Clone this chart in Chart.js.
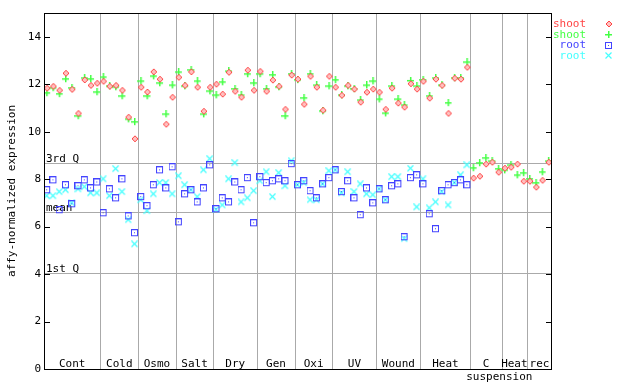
<!DOCTYPE html>
<html>
<head>
<meta charset="utf-8">
<script src="https://cdn.jsdelivr.net/npm/chart.js@4.4.1/dist/chart.umd.min.js"></script>
<style>
  body { margin: 0; background: #fff; }
  #wrap { width: 640px; height: 384px; }
</style>
</head>
<body>
<div id="wrap"><canvas id="expr" width="640" height="384"></canvas></div>
<script>
// groups of samples along the x axis
const groups = ['Cont', 'Cold', 'Osmo', 'Salt', 'Dry', 'Gen', 'Oxi', 'UV', 'Wound', 'Heat', 'C\nsuspension', 'Heat', 'rec'];
const groupSizes = [9, 6, 6, 6, 7, 6, 6, 7, 7, 8, 5, 4, 4];

// shoot replicates (all 81 samples)
const shootA = [
  11.83, 11.91, 11.74, 12.46, 11.78, 10.77, 12.18, 11.95, 12.04,
  12.12, 11.91, 11.95, 11.74, 10.61, 9.70,
  11.87, 11.67, 12.52, 12.21, 10.31, 11.45,
  12.29, 11.95, 12.52, 11.87, 10.86, 11.87,
  12.00, 11.58, 12.50, 11.70, 11.45, 12.59, 11.74,
  12.54, 11.70, 12.17, 11.91, 10.94, 12.38,
  12.21, 11.15, 12.33, 11.87, 10.90, 12.33,
  11.87, 11.53, 11.95, 11.79, 11.24, 11.66, 11.79,
  11.66, 10.94, 11.83, 11.20, 11.03, 12.02, 11.79,
  12.12, 11.41, 12.21, 11.95, 10.77, 12.25, 12.21, 12.71,
  8.04, 8.12, 8.63, 8.71, 8.29,
  8.46, 8.50, 8.63, 7.91,
  7.91, 7.66, 7.95, 8.71
];
const shootB = [
  11.62, 11.83, 11.58, 12.21, 11.83, 10.65, 12.25, 12.21, 11.66,
  12.29, 11.91, 11.87, 11.49, 10.52, 10.40,
  12.12, 11.49, 12.33, 12.04, 10.73, 11.95,
  12.50, 11.91, 12.59, 12.12, 10.73, 11.70,
  11.53, 12.08, 12.54, 11.79, 11.53, 12.42, 12.04,
  12.42, 11.79, 12.38, 11.87, 10.65, 12.42,
  12.17, 11.41, 12.42, 11.95, 10.86, 11.91,
  12.17, 11.53, 11.91, 11.79, 11.32, 11.95, 12.12,
  11.36, 10.77, 11.91, 11.36, 11.11, 12.14, 11.91,
  12.17, 11.49, 12.25, 11.95, 11.20, 12.25, 12.25, 12.92,
  8.46, 8.67, 8.88, 8.75, 8.42,
  8.37, 8.58, 8.16, 8.25,
  8.00, 7.83, 8.29, 8.75
];
// root replicates (first 68 samples, Cont .. Heat)
const rootA = [
  7.53, 7.95, 6.69, 7.74, 6.94, 7.70, 7.95, 7.61, 7.86,
  6.56, 7.57, 7.19, 7.99, 6.43, 5.72,
  7.24, 6.86, 7.74, 8.37, 7.61, 8.50,
  6.18, 7.36, 7.53, 7.02, 7.61, 8.58,
  6.73, 7.19, 7.02, 7.86, 7.53, 8.04, 6.14,
  8.08, 7.83, 7.91, 7.99, 7.91, 8.63,
  7.74, 7.91, 7.49, 7.19, 7.78, 8.04,
  8.37, 7.45, 7.91, 7.19, 6.48, 7.61, 6.98,
  7.57, 7.11, 7.70, 7.78, 5.55, 8.04, 8.16,
  7.78, 6.52, 5.89, 7.49, 7.74, 7.83, 7.95, 7.74
];
const rootB = [
  7.28, 7.28, 7.45, 7.53, 6.98, 7.57, 7.66, 7.40, 7.40,
  7.99, 7.28, 8.42, 7.45, 6.27, 5.25,
  7.11, 6.65, 7.36, 7.83, 7.83, 7.36,
  8.12, 7.74, 7.53, 7.24, 8.37, 8.84,
  6.70, 6.89, 7.99, 8.67, 7.02, 7.19, 7.49,
  7.91, 8.29, 7.24, 8.25, 7.70, 8.75,
  7.74, 7.83, 7.11, 7.11, 7.78, 8.33,
  8.37, 7.40, 8.29, 7.45, 7.78, 7.36, 7.32,
  7.57, 7.11, 8.08, 8.08, 5.47, 8.44, 6.81,
  7.99, 6.77, 7.02, 7.45, 6.89, 7.83, 8.16, 8.58
];

// reference lines
const refLabels = ['3rd Q', 'mean', '1st Q'];
const refValues = [8.67, 6.60, 4.05];

const FONT = '11px "DejaVu Sans Mono", monospace';
const RED = '#ff4444', GREEN = '#44ff44', BLUE = '#4444ff', CYAN = '#44ffff';
const nSamples = groupSizes.reduce((a, b) => a + b, 0);

// little marker bitmaps
function marker(draw) {
  const c = document.createElement('canvas');
  c.width = 8; c.height = 8;
  draw(c.getContext('2d'));
  return c;
}
const diamond = marker(g => {
  g.fillStyle = '#ffc0c0'; g.strokeStyle = RED; g.lineWidth = 1;
  g.beginPath(); g.moveTo(4, 1); g.lineTo(7, 4); g.lineTo(4, 7); g.lineTo(1, 4); g.closePath();
  g.fill(); g.stroke();
});
const plus = marker(g => {
  g.fillStyle = GREEN;
  g.fillRect(0, 3, 7, 1.5); g.fillRect(3, 0, 1.5, 7);
});
const square = marker(g => {
  g.strokeStyle = BLUE; g.lineWidth = 1;
  g.strokeRect(0.5, 0.5, 6, 6);
  g.fillStyle = BLUE; g.fillRect(3, 3, 1, 1);
});
const cross = marker(g => {
  g.strokeStyle = CYAN; g.lineWidth = 1.2;
  g.beginPath(); g.moveTo(0.5, 0.5); g.lineTo(6.5, 6.5); g.moveTo(6.5, 0.5); g.lineTo(0.5, 6.5); g.stroke();
});

function pts(arr) {
  return arr.map((v, i) => ({ x: i + 0.5, y: v }));
}

const decor = {
  id: 'decor',
  beforeDatasetsDraw(chart) {
    const ctx = chart.ctx, a = chart.chartArea;
    const xs = chart.scales.x, ys = chart.scales.y;
    ctx.save();
    ctx.strokeStyle = '#aaaaaa';
    ctx.lineWidth = 1;
    // group separators
    let acc = 0;
    groupSizes.slice(0, -1).forEach(n => {
      acc += n;
      const px = Math.round(xs.getPixelForValue(acc)) + 0.5;
      ctx.beginPath(); ctx.moveTo(px, a.top); ctx.lineTo(px, a.bottom); ctx.stroke();
    });
    // quartile / mean lines
    ctx.font = FONT;
    ctx.fillStyle = '#000';
    ctx.textAlign = 'left';
    ctx.textBaseline = 'alphabetic';
    refValues.forEach((v, i) => {
      const py = Math.round(ys.getPixelForValue(v)) + 0.5;
      ctx.beginPath(); ctx.moveTo(a.left, py); ctx.lineTo(a.right, py); ctx.stroke();
      ctx.fillText(refLabels[i], a.left + 2, py - 2);
    });
    ctx.restore();
  },
  afterDraw(chart) {
    const ctx = chart.ctx, a = chart.chartArea;
    const xs = chart.scales.x, ys = chart.scales.y;
    ctx.save();
    // frame
    ctx.strokeStyle = '#000';
    ctx.lineWidth = 1;
    ctx.strokeRect(a.left + 0.5, a.top + 0.5, a.right - a.left - 1, a.bottom - a.top);
    // inner ticks on both sides
    ys.ticks.forEach(t => {
      const py = Math.round(ys.getPixelForValue(t.value)) + 0.5;
      ctx.beginPath();
      ctx.moveTo(a.left, py); ctx.lineTo(a.left + 6, py);
      ctx.moveTo(a.right - 6, py); ctx.lineTo(a.right, py);
      ctx.stroke();
    });
    // group labels
    ctx.font = FONT;
    ctx.fillStyle = '#000';
    ctx.textBaseline = 'alphabetic';
    let acc = 0;
    groups.forEach((g, i) => {
      const cx = xs.getPixelForValue(acc + groupSizes[i] / 2);
      g.split('\n').forEach((line, k) => {
        if (k === 0) {
          ctx.textAlign = 'center';
          ctx.fillText(line, cx, a.bottom - 2);
        } else {
          ctx.textAlign = 'left';
          ctx.fillText(line, cx - 20, a.bottom - 2 + k * 13);
        }
      });
      acc += groupSizes[i];
    });
    // axis title
    ctx.save();
    ctx.translate(12, (a.top + a.bottom) / 2);
    ctx.rotate(-Math.PI / 2);
    ctx.textAlign = 'center';
    ctx.textBaseline = 'middle';
    ctx.fillText('affy-normalized expression', 0, 0);
    ctx.restore();
    // legend
    ctx.textAlign = 'right';
    ctx.textBaseline = 'middle';
    chart.data.datasets.forEach((ds, i) => {
      const y = 24 + i * 10.8;
      ctx.fillStyle = ds.borderColor;
      ctx.fillText(ds.label, 586, y);
      ctx.drawImage(ds.pointStyle, 605, Math.round(y) - 4);
    });
    ctx.restore();
  }
};

new Chart(document.getElementById('expr'), {
  type: 'scatter',
  data: {
    datasets: [
      { label: 'shoot', data: pts(shootA), pointStyle: diamond, borderColor: RED, backgroundColor: RED },
      { label: 'shoot', data: pts(shootB), pointStyle: plus, borderColor: GREEN, backgroundColor: GREEN },
      { label: 'root', data: pts(rootA), pointStyle: square, borderColor: BLUE, backgroundColor: BLUE },
      { label: 'root', data: pts(rootB), pointStyle: cross, borderColor: CYAN, backgroundColor: CYAN }
    ]
  },
  options: {
    responsive: false,
    animation: false,
    layout: { padding: { left: 0, top: 13, right: 88, bottom: 15 } },
    plugins: { legend: { display: false }, tooltip: { enabled: false } },
    scales: {
      x: {
        type: 'linear', min: 0, max: nSamples, display: false
      },
      y: {
        min: 0, max: 15,
        afterFit: s => { s.width = 44; },
        afterBuildTicks: s => { s.ticks = [0, 2, 4, 6, 8, 10, 12, 14].map(v => ({ value: v })); },
        grid: { drawOnChartArea: false, drawTicks: false },
        border: { display: false },
        ticks: { font: { family: '"DejaVu Sans Mono", monospace', size: 11 }, color: '#000', padding: 3 }
      }
    }
  },
  plugins: [decor]
});
</script>
</body>
</html>
